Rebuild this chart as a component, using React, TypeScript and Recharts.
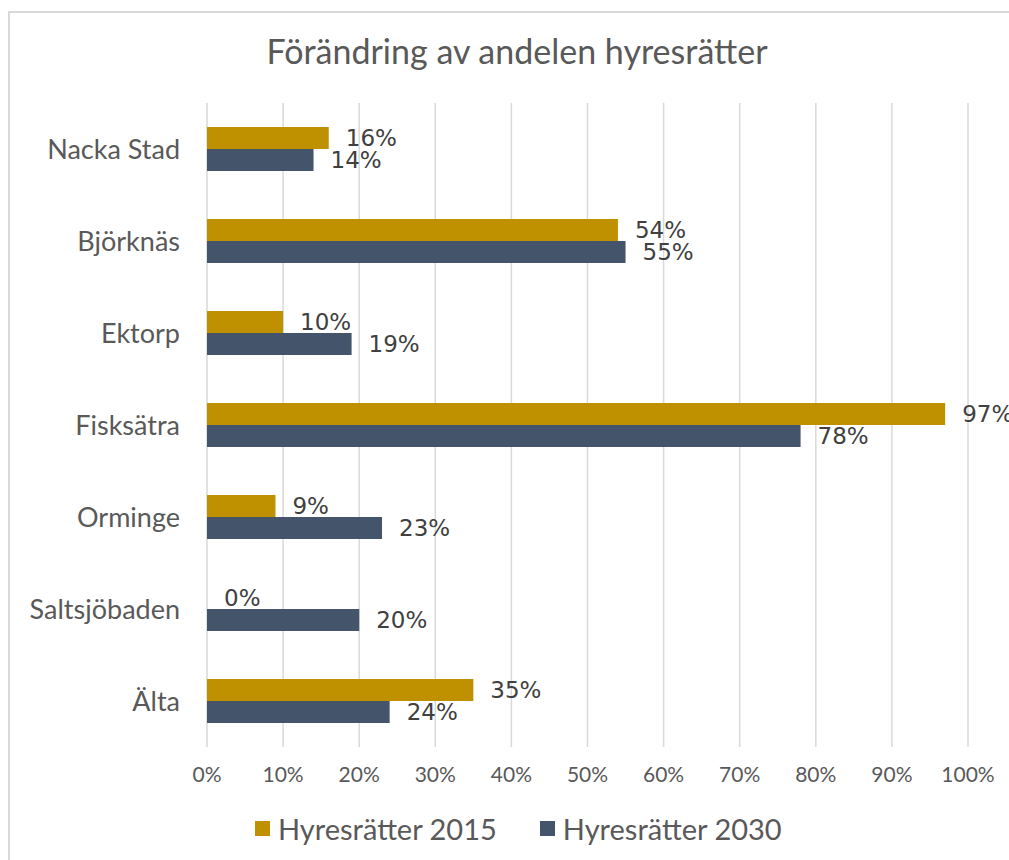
import { BarChart, Bar, XAxis, YAxis, CartesianGrid, LabelList, Legend } from "recharts";

const categories = ["Nacka Stad", "Björknäs", "Ektorp", "Fisksätra", "Orminge", "Saltsjöbaden", "Älta"];
const values2015 = [16, 54, 10, 97, 9, 0, 35];
const values2030 = [14, 55, 19, 78, 23, 20, 24];
const xTicks = [0, 10, 20, 30, 40, 50, 60, 70, 80, 90, 100];
const seriesNames = ["Hyresrätter 2015", "Hyresrätter 2030"];

const data = categories.map((name, i) => ({
    name,
    v2015: values2015[i],
    v2030: values2030[i],
}));

const GOLD = "#BF9000";
const SLATE = "#44546A";
const TEXT = "#595959";
const FONT = "Lato, 'Noto Sans', sans-serif";
const LABEL_FONT = "'DejaVu Sans', sans-serif";

const renderLegend = () => (
    <div style={{display: "flex", height: 34, alignItems: "center", fontFamily: FONT, fontSize: 29, color: TEXT}}>
        {[GOLD, SLATE].map((c, i) => (
            <div key={i} style={{display: "flex", alignItems: "center", marginRight: 43}}>
                <span style={{width: 15, height: 15, background: c, marginRight: 8, display: "inline-block"}}/>
                <span>{seriesNames[i]}</span>
            </div>
        ))}
    </div>
);

// draws the value label even for zero-width bars
const renderValueLabel = (props: any) => {
    const {x, y, width, height, value} = props;
    return (
        <text
            x={Number(x) + Number(width) + 17}
            y={Number(y) + Number(height) / 2}
            dominantBaseline="central"
            fill="#404040"
            fontSize={23}
            fontFamily={LABEL_FONT}
        >
            {`${value}%`}
        </text>
    );
};

export default function App() {
    return (
        <div style={{position: "fixed", left: 0, top: 0, width: 1009, height: 860, overflow: "hidden", background: "#fff"}}>
            <div style={{position: "absolute", left: 8, top: 11, width: 1100, height: 900, border: "2px solid #D9D9D9"}}/>
            <div style={{
                position: "absolute", left: 0, top: 30, width: 1034, textAlign: "center",
                fontFamily: FONT, fontSize: 34, color: TEXT,
            }}>
                Förändring av andelen hyresrätter
            </div>
            <div style={{position: "absolute", left: 0, top: 0}}>
                <BarChart
                    width={1009}
                    height={860}
                    data={data}
                    layout="vertical"
                    margin={{top: 103, right: 41, bottom: 39, left: 0}}
                    barGap={0}
                    barSize={22}
                >
                    <CartesianGrid horizontal={false} stroke="#D9D9D9" strokeWidth={1.5}/>
                    <XAxis
                        type="number"
                        domain={[0, 100]}
                        ticks={xTicks}
                        tickFormatter={(v) => `${v}%`}
                        axisLine={false}
                        tickLine={false}
                        tickMargin={14}
                        height={40}
                        tick={{fill: TEXT, fontSize: 21, fontFamily: FONT}}
                        interval={0}
                    />
                    <YAxis
                        type="category"
                        dataKey="name"
                        width={207}
                        axisLine={false}
                        tickLine={false}
                        tickMargin={21}
                        tick={{fill: TEXT, fontSize: 27, fontFamily: FONT}}
                    />
                    <Legend
                        content={renderLegend}
                        wrapperStyle={{left: 255, top: 811, width: "auto"}}
                    />
                    <Bar dataKey="v2015" name={seriesNames[0]} fill={GOLD} minPointSize={0.01} isAnimationActive={false}>
                        <LabelList dataKey="v2015" content={renderValueLabel}/>
                    </Bar>
                    <Bar dataKey="v2030" name={seriesNames[1]} fill={SLATE} isAnimationActive={false}>
                        <LabelList dataKey="v2030" content={renderValueLabel}/>
                    </Bar>
                </BarChart>
            </div>
        </div>
    );
}
